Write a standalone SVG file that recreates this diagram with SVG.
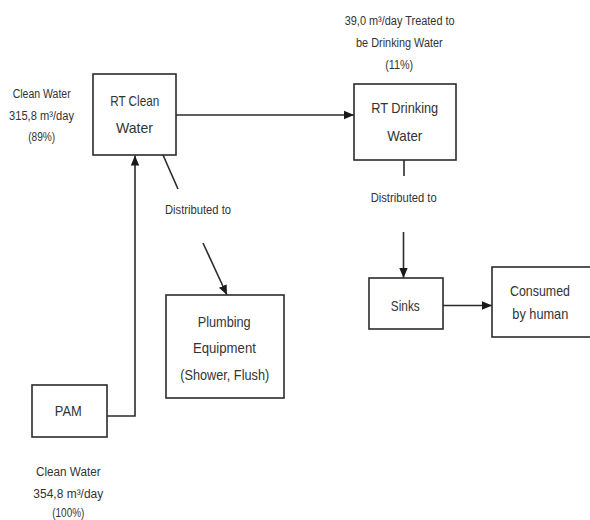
<svg xmlns="http://www.w3.org/2000/svg" width="590" height="520" viewBox="0 0 590 520">
<defs>
<style>
.box{fill:#fff;stroke:#2b2b2b;stroke-width:1.6}
.ln{fill:none;stroke:#2b2b2b;stroke-width:1.6}
.t{font-family:"Liberation Sans",Arial,sans-serif;font-size:15px;fill:#333;text-anchor:middle}
.s{font-family:"Liberation Sans",Arial,sans-serif;font-size:12.5px;fill:#333;text-anchor:middle}
</style>
<marker id="ah" markerUnits="userSpaceOnUse" markerWidth="10" markerHeight="10" viewBox="0 0 10 10" refX="10" refY="5" orient="auto">
<path d="M0,0.8 L10,5 L0,9.2 Z" fill="#1a1a1a"/>
</marker>
</defs>
<rect width="590" height="520" fill="#fff"/>

<g id="connectors">
<line class="ln" x1="176" y1="115" x2="354" y2="115" marker-end="url(#ah)"/>
<polyline class="ln" points="107,416 135,416 135,155.5" marker-end="url(#ah)"/>
<line class="ln" x1="163" y1="155" x2="178" y2="189"/>
<line class="ln" x1="203" y1="243" x2="227" y2="295" marker-end="url(#ah)"/>
<line class="ln" x1="404" y1="160" x2="404" y2="176"/>
<line class="ln" x1="403.5" y1="232" x2="403.5" y2="278" marker-end="url(#ah)"/>
<line class="ln" x1="443" y1="305.5" x2="492" y2="305.5" marker-end="url(#ah)"/>
</g>

<g id="rt-clean">
<rect class="box" x="93" y="74" width="83" height="81"/>
<text class="t" x="134.7" y="106" textLength="49" lengthAdjust="spacingAndGlyphs">RT Clean</text>
<text class="t" x="134.4" y="133" textLength="37" lengthAdjust="spacingAndGlyphs">Water</text>
</g>

<g id="rt-drinking">
<rect class="box" x="354" y="84" width="102" height="76"/>
<text class="t" x="404.7" y="113" textLength="67" lengthAdjust="spacingAndGlyphs">RT Drinking</text>
<text class="t" x="404.8" y="141" textLength="35" lengthAdjust="spacingAndGlyphs">Water</text>
</g>

<g id="plumbing">
<rect class="box" x="166" y="295" width="118" height="103"/>
<text class="t" x="224.2" y="327" textLength="53" lengthAdjust="spacingAndGlyphs">Plumbing</text>
<text class="t" x="224.4" y="353" textLength="63" lengthAdjust="spacingAndGlyphs">Equipment</text>
<text class="t" x="224.7" y="380" textLength="89" lengthAdjust="spacingAndGlyphs">(Shower, Flush)</text>
</g>

<g id="pam">
<rect class="box" x="32" y="385" width="75" height="52"/>
<text class="t" x="68.3" y="416" textLength="27" lengthAdjust="spacingAndGlyphs">PAM</text>
</g>

<g id="sinks">
<rect class="box" x="369" y="278" width="74" height="51"/>
<text class="t" x="405.3" y="311" textLength="29" lengthAdjust="spacingAndGlyphs">Sinks</text>
</g>

<g id="consumed">
<rect class="box" x="492" y="267" width="104" height="70"/>
<text class="t" x="540" y="296" textLength="60" lengthAdjust="spacingAndGlyphs">Consumed</text>
<text class="t" x="540.3" y="319" textLength="56" lengthAdjust="spacingAndGlyphs">by human</text>
</g>

<g id="label-clean-top">
<text class="s" x="41.7" y="98" textLength="58" lengthAdjust="spacingAndGlyphs">Clean Water</text>
<text class="s" x="41.5" y="119.5" textLength="65" lengthAdjust="spacingAndGlyphs">315,8 m³/day</text>
<text class="s" x="41.7" y="141" textLength="27" lengthAdjust="spacingAndGlyphs">(89%)</text>
</g>

<g id="label-drinking">
<text class="s" x="399.7" y="25" textLength="110" lengthAdjust="spacingAndGlyphs">39,0 m³/day Treated to</text>
<text class="s" x="399.4" y="46.5" textLength="86.7" lengthAdjust="spacingAndGlyphs">be Drinking Water</text>
<text class="s" x="399.2" y="68.5" textLength="28" lengthAdjust="spacingAndGlyphs">(11%)</text>
</g>

<g id="label-dist-left">
<text class="s" x="198" y="214" textLength="66" lengthAdjust="spacingAndGlyphs">Distributed to</text>
</g>

<g id="label-dist-right">
<text class="s" x="403.7" y="202" textLength="66" lengthAdjust="spacingAndGlyphs">Distributed to</text>
</g>

<g id="label-clean-bottom">
<text class="s" x="68.3" y="476" textLength="64.7" lengthAdjust="spacingAndGlyphs">Clean Water</text>
<text class="s" x="68.3" y="498" textLength="70" lengthAdjust="spacingAndGlyphs">354,8 m³/day</text>
<text class="s" x="68.3" y="517" textLength="32" lengthAdjust="spacingAndGlyphs">(100%)</text>
</g>
</svg>
